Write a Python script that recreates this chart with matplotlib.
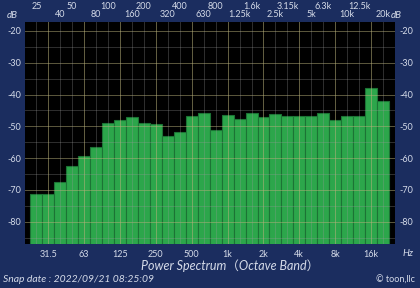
import numpy as np
import matplotlib.pyplot as plt

# 1/3 octave band centres and levels (dB)
bands = ["25", "31.5", "40", "50", "63", "80", "100", "125", "160", "200",
         "250", "315", "400", "500", "630", "800", "1k", "1.25k", "1.6k", "2k",
         "2.5k", "3.15k", "4k", "5k", "6.3k", "8k", "10k", "12.5k", "16k", "20k"]
levels = [-71.3, -71.3, -67.4, -62.5, -59.3, -56.4, -48.8, -48.1, -47.1, -48.9,
          -49.2, -52.9, -51.9, -46.6, -45.9, -51.2, -46.4, -47.8, -45.7, -47.1,
          -46.2, -46.6, -46.6, -46.8, -45.8, -48.0, -46.8, -46.9, -38.0, -42.1]

top_row1 = ["25", "50", "100", "200", "400", "800", "1.6k", "3.15k", "6.3k", "12.5k"]
top_row2 = ["40", "80", "160", "320", "630", "1.25k", "2.5k", "5k", "10k", "20k"]
bottom_labels = ["31.5", "63", "125", "250", "500", "1k", "2k", "4k", "8k", "16k"]
db_ticks = [-20, -30, -40, -50, -60, -70, -80]

navy = "#1b2d5f"
txt = "#d4dae8"
font = ["Lato", "Noto Sans CJK JP", "DejaVu Sans"]
plt.rcParams["font.family"] = font

fig = plt.figure(figsize=(4.2, 2.88), dpi=100, facecolor=navy)
ax = fig.add_axes([25 / 420, 1 - 244 / 288, 370 / 420, 222 / 288])
ax.set_facecolor("black")

floor = -90
x = np.arange(len(bands))
ax.bar(x, np.array(levels) - floor, bottom=floor, width=1.0,
       color="#2ca64b", edgecolor="#1c7335", linewidth=0.8, zorder=2)

ax.set_xlim(-0.95, 30.0)
ax.set_ylim(-87.0, -17.2)

# grid on top of the bars
for y in np.arange(-85, -15, 5):
    major = y % 10 == 0
    ax.axhline(y, color="#b8b07a" if major else "#9a9a9a",
               alpha=0.5 if major else 0.3, lw=0.7, zorder=3)
for i in x:
    major = i % 3 == 1
    ax.axvline(i, color="#b8b07a" if major else "#9a9a9a",
               alpha=0.55 if major else 0.3, lw=0.7, zorder=3)

for s in ax.spines.values():
    s.set_visible(False)

ax.set_xticks(x[1::3], bottom_labels)
ax.set_yticks(db_ticks, [str(v) for v in db_ticks])
ax.tick_params(axis="both", length=0, colors=txt, labelsize=6.5)
ax.tick_params(axis="x", pad=4)
ax.tick_params(axis="y", pad=3, labelright=True)

tr = ax.get_xaxis_transform()
for i, lab in zip(x[0::3], top_row1):
    ax.text(i, 1.068, lab, transform=tr, ha="center", va="center",
            color=txt, fontsize=6.5)
for i, lab in zip(x[2::3], top_row2):
    ax.text(i, 1.032, lab, transform=tr, ha="center", va="center",
            color=txt, fontsize=6.5)

fig.text(12 / 420, 1 - 16 / 288, "dB", color=txt, fontsize=7, style="italic",
         ha="center", va="center")
fig.text(396 / 420, 1 - 16 / 288, "dB", color=txt, fontsize=7, style="italic",
         ha="center", va="center")
fig.text(408 / 420, 1 - 253 / 288, "Hz", color=txt, fontsize=7, style="italic",
         ha="center", va="center")
fig.text(230 / 420, 1 - 266 / 288, "Power Spectrum（Octave Band）", color=txt,
         fontsize=9, style="italic", ha="center", va="center")
fig.text(3 / 420, 1 - 280 / 288, "Snap date : 2022/09/21 08:25:09", color=txt,
         fontsize=7.5, style="italic", ha="left", va="center")
fig.text(415 / 420, 1 - 280 / 288, "© toon,llc", color=txt,
         fontsize=6.5, ha="right", va="center")

fig.savefig("out.png", dpi=100, facecolor=navy)
